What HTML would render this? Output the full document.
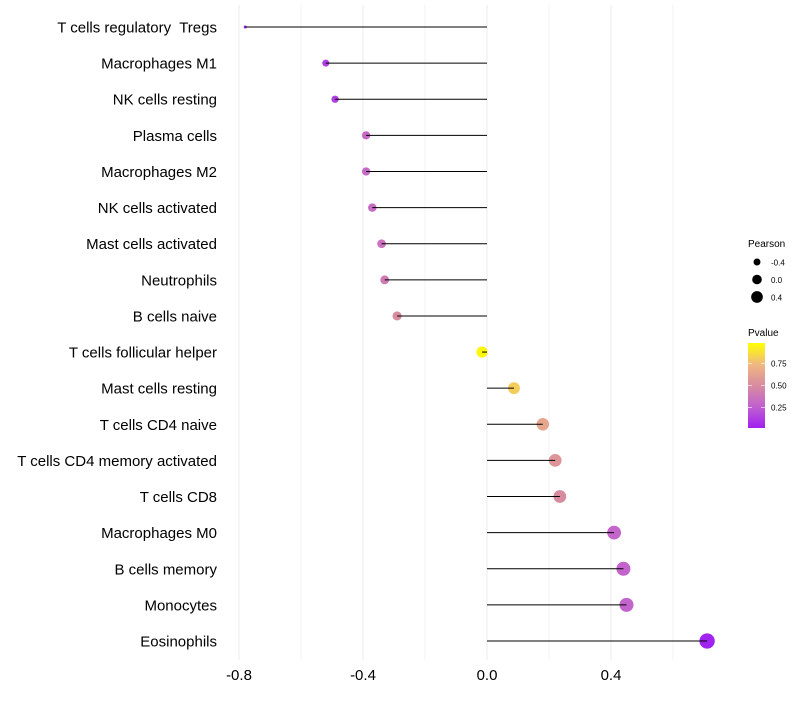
<!DOCTYPE html>
<html><head><meta charset="utf-8"><style>
body{margin:0;background:#fff;font-family:"Liberation Sans",sans-serif;}
text{white-space:pre;}
</style></head><body>
<svg id="chart" width="800" height="700" xmlns="http://www.w3.org/2000/svg" xml:space="preserve">
<g id="grid"></g><g id="dots"></g><g id="marks"></g><g id="labels"></g><g id="legend"></g>
</svg>
<script>
const categories=["T cells regulatory  Tregs","Macrophages M1","NK cells resting","Plasma cells","Macrophages M2","NK cells activated","Mast cells activated","Neutrophils","B cells naive","T cells follicular helper","Mast cells resting","T cells CD4 naive","T cells CD4 memory activated","T cells CD8","Macrophages M0","B cells memory","Monocytes","Eosinophils"];
const pearson=[-0.78,-0.52,-0.49,-0.39,-0.39,-0.37,-0.34,-0.33,-0.29,-0.016,0.087,0.18,0.22,0.235,0.41,0.44,0.45,0.71];
const pvalue=[0.03,0.12,0.12,0.3,0.3,0.32,0.35,0.4,0.5,0.97,0.82,0.65,0.55,0.5,0.28,0.27,0.27,0.01];
const xTicks=[-0.8,-0.4,0.0,0.4];
const xTickLabels=["-0.8","-0.4","0.0","0.4"];
const minorTicks=[-0.6,-0.2,0.2,0.6];
const sizeLegend=[-0.4,0.0,0.4];
const colorTicks=[0.25,0.5,0.75];

const NS="http://www.w3.org/2000/svg";
const X=v=>487+v*310;
const Y=i=>27+i*(641-27)/(categories.length-1);
const R=p=>Math.sqrt(Math.max(2.25,32+38*p));
const stops=[[0,[160,32,240]],[0.25,[192,96,208]],[0.5,[216,140,160]],[0.75,[240,184,128]],[1,[255,255,0]]];
function col(v){v=Math.max(0,Math.min(1,v));for(let k=1;k<stops.length;k++){if(v<=stops[k][0]){const a=stops[k-1],b=stops[k],t=(v-a[0])/(b[0]-a[0]);const c=a[1].map((x,j)=>Math.round(x+(b[1][j]-x)*t));return `rgb(${c.join(",")})`;}}return "rgb(255,255,0)";}
function mk(tag,attrs,parent,text){const e=document.createElementNS(NS,tag);for(const k in attrs)e.setAttribute(k,attrs[k]);if(text!=null)e.textContent=text;document.getElementById(parent).appendChild(e);return e;}

[...xTicks,...minorTicks].forEach(v=>{
 const l=mk("line",{x1:X(v),x2:X(v),y1:5,y2:660,stroke:"#ebebeb","stroke-width":xTicks.includes(v)?1:0.6},"grid");
 
 
});
xTicks.forEach((v,i)=>{
 const t=mk("text",{x:X(v),y:680,"text-anchor":"middle","font-size":15,fill:"#000"},"labels",xTickLabels[i]);
 
 
});
categories.forEach((c,i)=>{
 const y=Y(i);
 const t=mk("text",{x:217,y:y+5.5,"text-anchor":"end","font-size":15,fill:"#000"},"labels",c);
 
 
 const d=mk("circle",{cx:X(pearson[i]),cy:y,r:R(pearson[i]),fill:col(pvalue[i])},"dots");
 
 
 const l=mk("line",{x1:X(0),x2:X(pearson[i]),y1:y,y2:y,stroke:"#000","stroke-width":1},"marks");
 
 
});
let t=mk("text",{x:748,y:247,"font-size":10},"legend","Pearson");


sizeLegend.forEach((p,i)=>{
 const y=262+i*17.5;
 const c=mk("circle",{cx:757,cy:y,r:R(p)*0.85,fill:"#000"},"legend");
 
 
 const tt=mk("text",{x:771,y:y+3.5,"font-size":8},"legend",p.toFixed(1));
 
 
});
t=mk("text",{x:748,y:336,"font-size":10},"legend","Pvalue");


const defs=mk("defs",{},"legend");
const g=document.createElementNS(NS,"linearGradient");g.id="pg";g.setAttribute("x1","0");g.setAttribute("y1","1");g.setAttribute("x2","0");g.setAttribute("y2","0");
stops.forEach(s=>{const st=document.createElementNS(NS,"stop");st.setAttribute("offset",s[0]);st.setAttribute("stop-color",col(s[0]));g.appendChild(st);});
defs.appendChild(g);
const bar=mk("rect",{x:748,y:343,width:17,height:85,fill:"url(#pg)"},"legend");


const cy=v=>428-(v-0.02)/(0.98-0.02)*85;
colorTicks.forEach(v=>{
 const l=mk("line",{x1:748,x2:752,y1:cy(v),y2:cy(v),stroke:"#fff","stroke-width":0.6},"legend");
 
 
 const l2=mk("line",{x1:761,x2:765,y1:cy(v),y2:cy(v),stroke:"#fff","stroke-width":0.6},"legend");
 
 
 const tt=mk("text",{x:771,y:cy(v)+3,"font-size":8},"legend",v.toFixed(2));
 
 
});
</script>
</body></html>
